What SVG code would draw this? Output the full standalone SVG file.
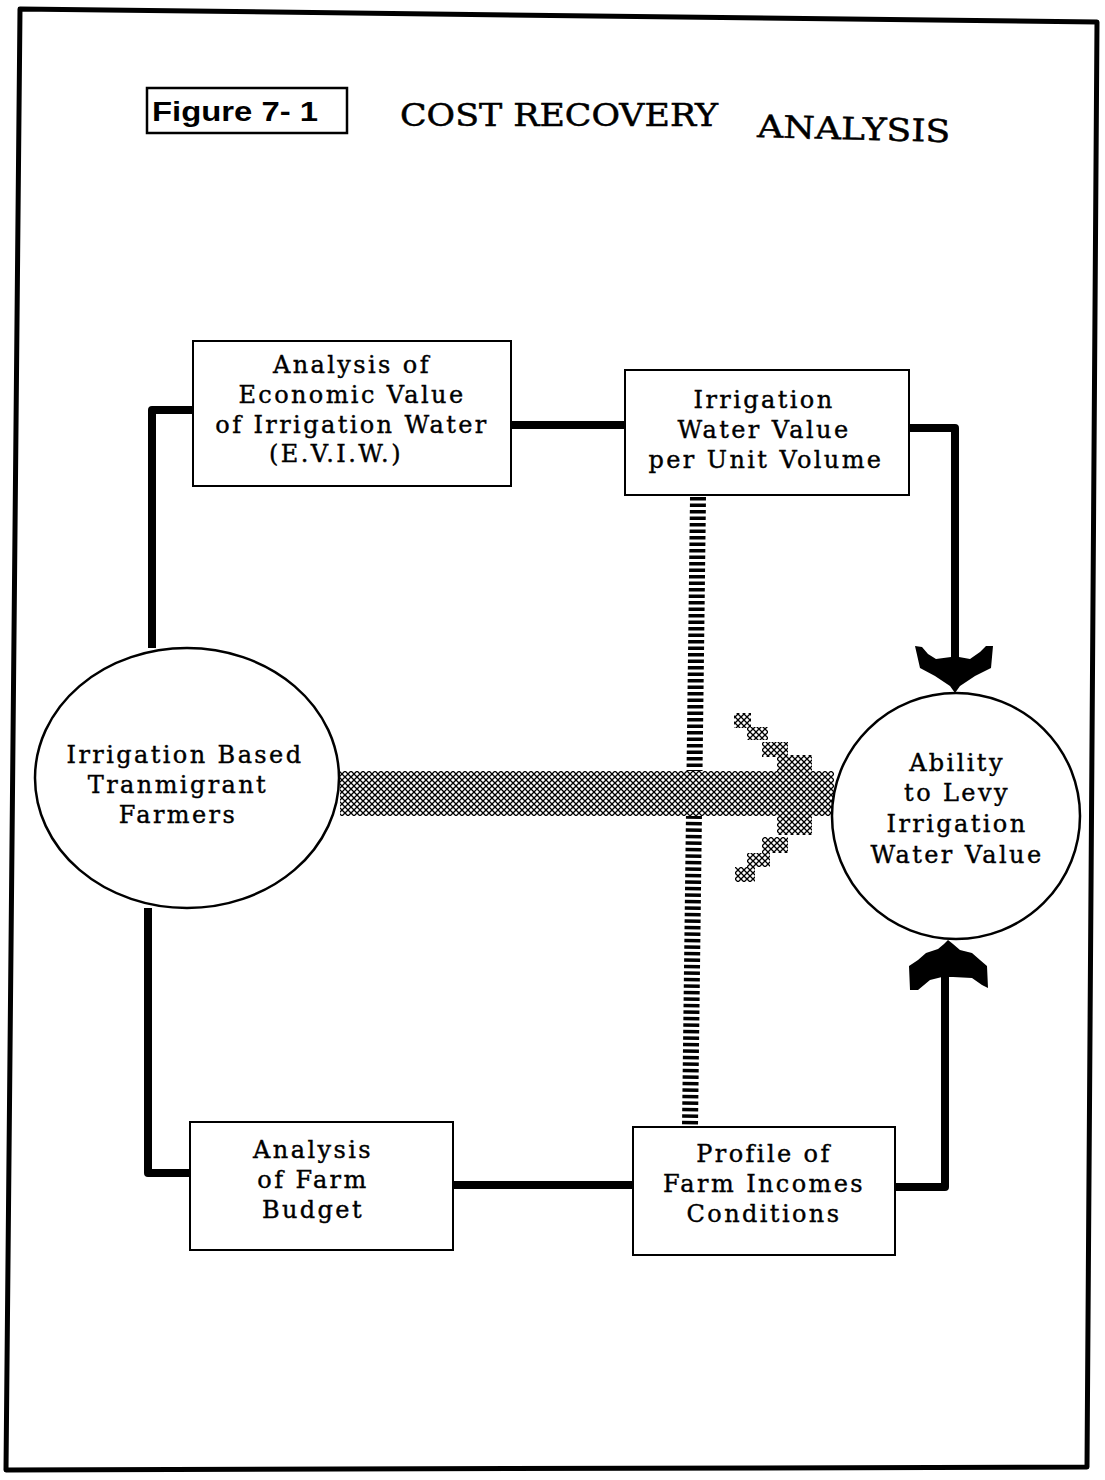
<svg xmlns="http://www.w3.org/2000/svg" width="1105" height="1480" viewBox="0 0 1105 1480">
<style>
.frame{fill:none;stroke:#000;stroke-width:5;stroke-linejoin:round}
.box{fill:#fff;stroke:#000;stroke-width:2}
.ell{fill:#fff;stroke:#000;stroke-width:2.5}
.lbl{font-family:"DejaVu Serif","Liberation Serif",serif;font-size:24px;letter-spacing:2.4px;fill:#000;stroke:#000;stroke-width:0.4;text-anchor:middle}
.conn{fill:none;stroke:#000;stroke-width:8;stroke-linejoin:round}
.title{font-family:"DejaVu Serif","Liberation Serif",serif;font-size:31px;fill:#000;stroke:#000;stroke-width:0.5}
.fig{font-family:"Liberation Sans",Arial,sans-serif;font-size:27px;font-weight:bold;fill:#000}
</style>
<defs>
<pattern id="hatch" width="6" height="6" patternUnits="userSpaceOnUse">
<rect width="6" height="6" fill="#fff"/>
<path d="M0,0 L6,6 M6,0 L0,6" stroke="#000" stroke-width="1.3"/>
</pattern>
</defs>
<rect x="0" y="0" width="1105" height="1480" fill="#fff"/>
<path class="frame" d="M20,9 L1097,22 L1087,1467 L6,1470 Z"/>
<g id="fig-label">
<rect x="147" y="88" width="200" height="45" fill="none" stroke="#000" stroke-width="2.5"/>
<text class="fig" x="152" y="121" textLength="166" lengthAdjust="spacingAndGlyphs">Figure 7- 1</text>
</g>
<g id="title">
<text class="title" x="400" y="126" textLength="318" lengthAdjust="spacingAndGlyphs">COST RECOVERY</text>
<text class="title" x="757" y="137" textLength="193" lengthAdjust="spacingAndGlyphs" transform="rotate(1.5 757 137)">ANALYSIS</text>
</g>
<g id="connectors">
<path class="conn" d="M193,410 L152,410 L152,648"/>
<path class="conn" d="M511,425 L625,425"/>
<path class="conn" d="M909,428 L955,428 L955,655"/>
<path class="conn" d="M148,908 L148,1173 L190,1173"/>
<path class="conn" d="M453,1185 L633,1185"/>
<path class="conn" d="M895,1187 L945,1187 L945,975"/>
<line x1="698" y1="497" x2="690" y2="1126" stroke="#000" stroke-width="16" stroke-dasharray="3.5 3"/>
<rect x="340" y="771" width="494" height="45" fill="url(#hatch)"/>
<g fill="url(#hatch)">
<rect x="734" y="713" width="17" height="15"/>
<rect x="747" y="727" width="21" height="13"/>
<rect x="762" y="742" width="26" height="15"/>
<rect x="777" y="755" width="35" height="16"/>
<rect x="777" y="816" width="35" height="19"/>
<rect x="762" y="837" width="26" height="16"/>
<rect x="747" y="853" width="23" height="14"/>
<rect x="735" y="867" width="20" height="15"/>
</g>
<path fill="#000" d="M915,646 L922,647 L928,654 L936,659 L951,657 L951,650 L959,650 L959,657 L970,659 L980,652 L986,646 L993,646 L991,668 L975,676 L960,686 L955,693 L950,686 L935,676 L920,668 Z"/>
<path fill="#000" d="M948,940 L953,944 L960,950 L972,953 L980,960 L987,966 L988,988 L982,985 L972,978 L953,977 L942,977 L930,980 L918,990 L910,990 L909,966 L918,960 L926,953 L938,949 L944,944 Z"/>
</g>
<g id="node-eviw">
<rect class="box" x="193" y="341" width="318" height="145"/>
<text class="lbl" x="352" y="373">Analysis of</text>
<text class="lbl" x="352" y="403">Economic Value</text>
<text class="lbl" x="352" y="433">of Irrigation Water</text>
<text class="lbl" x="336" y="462">(E.V.I.W.)</text>
</g>
<g id="node-unitvalue">
<rect class="box" x="625" y="370" width="284" height="125"/>
<text class="lbl" x="764" y="408">Irrigation</text>
<text class="lbl" x="764" y="438">Water Value</text>
<text class="lbl" x="766" y="468">per Unit Volume</text>
</g>
<g id="node-farmers">
<ellipse class="ell" cx="187" cy="778" rx="152" ry="130"/>
<text class="lbl" x="185" y="763">Irrigation Based</text>
<text class="lbl" x="178" y="793">Tranmigrant</text>
<text class="lbl" x="178" y="823">Farmers</text>
</g>
<g id="node-ability">
<ellipse class="ell" cx="956" cy="816" rx="124" ry="123"/>
<text class="lbl" x="957" y="771">Ability</text>
<text class="lbl" x="957" y="801">to Levy</text>
<text class="lbl" x="957" y="832">Irrigation</text>
<text class="lbl" x="957" y="863">Water Value</text>
</g>
<g id="node-budget">
<rect class="box" x="190" y="1122" width="263" height="128"/>
<text class="lbl" x="313" y="1158">Analysis</text>
<text class="lbl" x="313" y="1188">of Farm</text>
<text class="lbl" x="313" y="1218">Budget</text>
</g>
<g id="node-income">
<rect class="box" x="633" y="1127" width="262" height="128"/>
<text class="lbl" x="764" y="1162">Profile of</text>
<text class="lbl" x="764" y="1192">Farm Incomes</text>
<text class="lbl" x="764" y="1222">Conditions</text>
</g>
</svg>
